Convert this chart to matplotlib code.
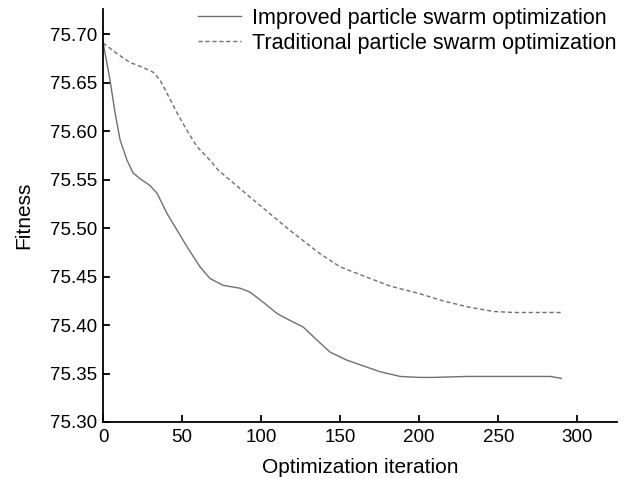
import matplotlib.pyplot as plt

plt.rcParams['font.family'] = ['Liberation Sans', 'DejaVu Sans']

# Improved PSO curve
iter_imp = [0, 4.4, 7.6, 10.8, 15.2, 19.0, 23.4, 29.7, 34.2, 40.5, 46.8, 53.8,
            61.4, 67.7, 76, 86.7, 93, 101, 110, 118, 126.6, 135, 143.7, 154, 162.7,
            175, 188, 200, 209, 230, 251, 270, 283, 290]
fit_imp = [75.692, 75.653, 75.619, 75.591, 75.570, 75.557, 75.551, 75.544,
           75.536, 75.515, 75.498, 75.479, 75.460, 75.448, 75.441, 75.438, 75.434,
           75.424, 75.412, 75.405, 75.398, 75.385, 75.372, 75.364, 75.359,
           75.352, 75.347, 75.346, 75.346, 75.347, 75.347, 75.347, 75.347, 75.345]

# Traditional PSO curve
iter_trad = [0, 8.9, 17, 25, 31.6, 36, 40.5, 46.8, 53, 59.5, 67.7, 72.8, 93, 118,
             137, 150, 162.7, 182, 199, 215, 230, 247, 260, 275, 290]
fit_trad = [75.691, 75.680, 75.671, 75.666, 75.661, 75.653, 75.639, 75.619, 75.601,
            75.584, 75.570, 75.560, 75.532, 75.498, 75.474, 75.460, 75.452, 75.440,
            75.433, 75.425, 75.419, 75.414, 75.413, 75.413, 75.413]

fig = plt.figure(figsize=(6.32, 4.79), dpi=100)
ax = fig.add_axes([0.163, 0.119, 0.813, 0.862])

ax.plot(iter_imp, fit_imp, color='#707070', lw=1.0, label='Improved particle swarm optimization')
ax.plot(iter_trad, fit_trad, color='#707070', lw=1.0, ls=(0, (3, 2)),
        label='Traditional particle swarm optimization')

ax.set_xlim(0, 325)
ax.set_ylim(75.30, 75.726)
ax.set_xticks([0, 50, 100, 150, 200, 250, 300])
ax.set_yticks([75.30, 75.35, 75.40, 75.45, 75.50, 75.55, 75.60, 75.65, 75.70])
ax.set_yticklabels(['%.2f' % v for v in ax.get_yticks()])

for s in ['top', 'right']:
    ax.spines[s].set_visible(False)
for s in ['left', 'bottom']:
    ax.spines[s].set_linewidth(1.3)
ax.tick_params(direction='in', length=5, width=1.3, labelsize=13.5)
ax.tick_params(axis='x', pad=5)
ax.tick_params(axis='y', pad=4)

ax.set_xlabel('Optimization iteration', fontsize=15, labelpad=9)
ax.set_ylabel('Fitness', fontsize=15, labelpad=12)

ax.legend(loc='upper right', bbox_to_anchor=(1.025, 1.035), frameon=False, fontsize=15.5,
          handlelength=2.0, handletextpad=0.5, labelspacing=0.2, borderaxespad=0.2)

fig.savefig('out.png', dpi=100)
